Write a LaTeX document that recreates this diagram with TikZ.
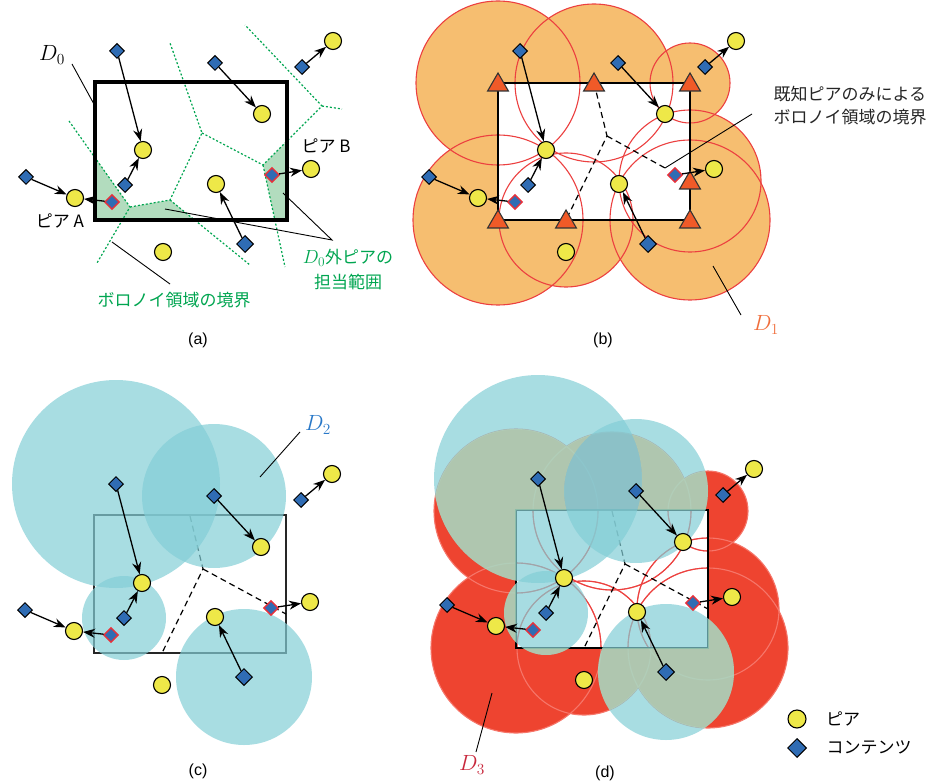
\RequirePackage{fix-cm}
\documentclass[tikz,border=0pt]{standalone}
\usepackage{fontspec}
\setmainfont{Liberation Sans}
\newfontfamily\jp{Noto Sans CJK JP}
\usetikzlibrary{arrows.meta,shapes.geometric,positioning}

\definecolor{peeryellow}{RGB}{238,232,72}
\definecolor{contentblue}{RGB}{47,108,180}
\definecolor{movedred}{RGB}{232,48,58}
\definecolor{voronoigreen}{RGB}{0,165,80}
\definecolor{regiongreen}{RGB}{178,220,190}
\definecolor{doneorange}{RGB}{246,190,112}
\definecolor{circlered}{RGB}{236,64,64}
\definecolor{vertexorange}{RGB}{240,90,40}
\definecolor{dthreered}{RGB}{238,68,48}
\definecolor{dthreering}{RGB}{246,118,106}
\definecolor{dtwocyan}{RGB}{131,206,214}
\definecolor{sagetint}{RGB}{189,232,187}
\definecolor{labelorange}{RGB}{240,110,60}
\definecolor{labelblue}{RGB}{40,120,200}
\definecolor{labelcrimson}{RGB}{200,40,60}

\tikzset{
  peer/.style={circle,draw,fill=peeryellow,line width=1.1pt,minimum size=17pt,inner sep=0pt},
  content/.style={diamond,draw,fill=contentblue,line width=1pt,minimum size=15pt,inner sep=0pt},
  moved/.style={content,draw=movedred,line width=1.4pt},
  known/.style={regular polygon,regular polygon sides=3,draw=black!80,fill=vertexorange,line width=1.1pt,minimum size=24pt,inner sep=0pt,yshift=-2pt},
  conn/.style={->,line width=1.3pt},
  leader/.style={line width=0.9pt},
  cellline/.style={voronoigreen,line width=1.2pt,dash pattern=on 2pt off 2pt},
  knownline/.style={line width=1.2pt,dash pattern=on 6pt off 4pt},
  mathlabel/.style={font=\fontsize{22}{24}\selectfont},
}

% voronoi vertices on the edge of D_0 / radius to the nearest known peer
\newcommand\vertexlist{95/83/82, 191/83/79, 287/83/40, 287/181/71, 287/220/80, 163/220/67, 95/220/85}
% contents held by known peers / distance to their peer
\newcommand\reachlist{117/51/104, 215/63/72, 125/185/42, 245/244/68}

\newcommand\drawitems{%
  \node[peer] (p1) at (143,150) {};
  \node[peer] (p2) at (262,114) {};
  \node[peer] (p3) at (216,184) {};
  \node[peer] (p4) at (311,169) {};
  \node[peer] (p5) at (333,41) {};
  \node[peer] (p6) at (75,198) {};
  \node[peer] (p7) at (163,252) {};
  \node[content] (c1) at (117,51) {};
  \node[content] (c2) at (215,63) {};
  \node[content] (c3) at (302,67) {};
  \node[content] (c4) at (125,185) {};
  \node[moved] (c5) at (112,202) {};
  \node[content] (c6) at (26,177) {};
  \node[moved] (c7) at (272,175) {};
  \node[content,minimum size=17pt] (c8) at (245,244) {};
  \foreach \c/\p in {c1/p1,c2/p2,c3/p5,c4/p1,c5/p6,c6/p6,c7/p4,c8/p3}
    \draw[conn] (\c) -- (\p);
}

\newcommand\knowncells{%
  \coordinate (w) at (204,136);
  \coordinate (wt) at (191,83);
  \coordinate (wb) at (163,220);
  \coordinate (wr) at (287,181);
}

\begin{document}
\begin{tikzpicture}[x=1pt,y=-1pt,>={Stealth[length=12pt,width=9pt]},
  every node/.style={font=\jp\fontsize{17}{23}\selectfont}]
  \useasboundingbox (0,0) rectangle (952,783);

  % (a)
  \begin{scope}
    \coordinate (v1) at (130,207);
    \coordinate (v2) at (170,200);
    \coordinate (v3) at (202,133);
    \coordinate (v4) at (263,165);
    \coordinate (v5) at (322,106);
    \coordinate (e1) at (69,121);
    \coordinate (e2) at (97,263);
    \coordinate (e3) at (170,43);
    \coordinate (e4) at (250,265);
    \coordinate (e5) at (245,25);
    \coordinate (e6) at (342,109);
    \coordinate (e7) at (285,267);
    \begin{scope}
      \clip (95,82) rectangle (287,220);
      \fill[regiongreen] (60,121) -- (e1) -- (v1) -- (v2) -- (e4) -- (60,265) -- cycle;
      \fill[regiongreen] (v5) -- (v4) -- (e7) -- (340,267) -- (340,106) -- cycle;
    \end{scope}
    \draw[cellline] (e1) -- (v1) -- (e2);
    \draw[cellline] (v1) -- (v2) -- (v3) -- (e3);
    \draw[cellline] (v2) -- (e4);
    \draw[cellline] (v3) -- (v4) -- (v5) -- (e5);
    \draw[cellline] (v5) -- (e6);
    \draw[cellline] (v4) -- (e7);
    \draw[line width=3.5pt] (95,82) rectangle (287,220);
    \drawitems
  \end{scope}
  \node[mathlabel] (dzero) at (52,55) {$D_0$};
  \coordinate (dzeroa) at (72,64);
  \coordinate (dzerob) at (95,106);
  \draw[leader] (dzeroa) -- (dzerob);
  \node (peerA) at (60,221) {ピア A};
  \node (peerB) at (326,146) {ピア B};
  \node[voronoigreen,align=center,font=\jp\fontsize{17}{25}\selectfont] (outside) at (348,270) {{\fontsize{19}{25}\selectfont$D_0$}外ピアの\\担当範囲};
  \coordinate (sh1) at (165,209);
  \coordinate (sh2) at (283,193);
  \coordinate (shm) at (332,240);
  \draw[leader] (sh1) -- (shm) -- (sh2);
  \node[voronoigreen] (cellnote) at (174,300) {ボロノイ領域の境界};
  \coordinate (cl1) at (112,242);
  \coordinate (cl2) at (170,284);
  \draw[leader] (cl1) -- (cl2);
  \node[font=\fontsize{16}{18}\selectfont] (capa) at (198,340) {(a)};

  % (b)
  \begin{scope}[shift={(403,0)}]
    \foreach \vx/\vy/\r in \vertexlist
      \fill[doneorange] (\vx,\vy) circle (\r);
    \fill[white] (95,83) rectangle (287,220);
    \foreach \vx/\vy/\r in \vertexlist
      \draw[circlered,line width=1.1pt] (\vx,\vy) circle (\r);
    \draw[line width=1.8pt] (95,83) rectangle (287,220);
    \knowncells
    \coordinate (wm) at (262,168);
    \draw[knownline] (wt) -- (w) -- (wb);
    \draw[knownline] (w) -- (wm);
    \foreach \vx/\vy/\r in \vertexlist
      \node[known] at (\vx,\vy) {};
    \drawitems
  \end{scope}
  \node[align=left,text=black!85] (knownnote) at (850,106) {既知ピアのみによる\\ボロノイ領域の境界};
  \coordinate (kn1) at (665,168);
  \coordinate (kn2) at (752,114);
  \draw[leader] (kn1) -- (kn2);
  \node[labelorange,mathlabel] (done) at (766,325) {$D_1$};
  \coordinate (do1) at (713,266);
  \coordinate (do2) at (741,315);
  \draw[leader] (do1) -- (do2);
  \node[font=\fontsize{16}{18}\selectfont] (capb) at (603,340) {(b)};

  % (c)
  \begin{scope}[shift={(-1,433)}]
    \draw[black!85,line width=1.3pt] (95,82) rectangle (287,220);
    \knowncells
    \draw[knownline] (wt) -- (w) -- (wb);
    \draw[knownline] (w) -- (wr);
    \foreach \vx/\vy/\r in \reachlist
      \fill[dtwocyan,fill opacity=.7] (\vx,\vy) circle (\r);
    \drawitems
  \end{scope}
  \node[labelblue,mathlabel] (dtwo) at (318,425) {$D_2$};
  \coordinate (dt1) at (260,477);
  \coordinate (dt2) at (300,432);
  \draw[leader] (dt1) -- (dt2);
  \node[font=\fontsize{16}{18}\selectfont] (capc) at (198,771) {(c)};

  % (d)
  \begin{scope}[shift={(421,428)}]
    \foreach \vx/\vy/\r in \vertexlist
      \fill[dthreered] (\vx,\vy) circle (\r);
    \fill[white] (95,82) rectangle (287,220);
    \foreach \vx/\vy/\r in \vertexlist
      \draw[dthreering,line width=1.1pt] (\vx,\vy) circle (\r);
    \begin{scope}
      \clip (95,82) rectangle (287,220);
      \foreach \vx/\vy/\r in \vertexlist
        \draw[circlered,line width=1.1pt] (\vx,\vy) circle (\r);
    \end{scope}
    \draw[line width=1.8pt] (95,82) rectangle (287,220);
    \knowncells
    \draw[knownline] (wt) -- (w) -- (wb);
    \draw[knownline] (w) -- (wr);
    \foreach \vx/\vy/\r in \reachlist
      \fill[dtwocyan,fill opacity=.7] (\vx,\vy) circle (\r);
    \begin{scope}
      \clip \foreach \vx/\vy/\r in \vertexlist {(\vx,\vy) circle (\r)};
      \begin{scope}[even odd rule]
        \clip (-200,-200) rectangle (500,500) (95,82) rectangle (287,220);
        \fill[sagetint,fill opacity=.5] \foreach \vx/\vy/\r in \reachlist {(\vx,\vy) circle (\r)};
      \end{scope}
    \end{scope}
    \drawitems
  \end{scope}
  \node[labelcrimson,mathlabel] (dthree) at (472,765) {$D_3$};
  \coordinate (dh1) at (492,693);
  \coordinate (dh2) at (476,752);
  \draw[leader] (dh1) -- (dh2);
  \node[font=\fontsize{16}{18}\selectfont] (capd) at (605,773) {(d)};

  % legend
  \node[peer,minimum size=18pt] (legpeer) at (797,719) {};
  \node[content,minimum size=19pt] (legcontent) at (797,748) {};
  \node[right=16pt of legpeer] (legpeertext) {ピア};
  \node[right=16pt of legcontent] (legcontenttext) {コンテンツ};
\end{tikzpicture}
\end{document}
